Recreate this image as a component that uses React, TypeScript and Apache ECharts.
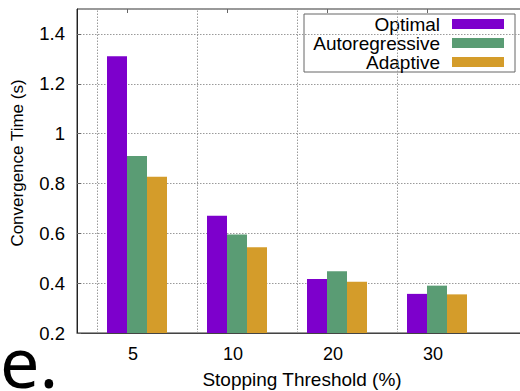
import React, { useEffect, useRef } from "react";
import * as echarts from "echarts";

const categories = ["5", "10", "20", "30"];
const optimal = [1.31, 0.67, 0.417, 0.357];
const autoregressive = [0.91, 0.595, 0.448, 0.39];
const adaptive = [0.827, 0.544, 0.406, 0.355];
const seriesNames = ["Optimal", "Autoregressive", "Adaptive"];
const seriesColors = ["#7d00cc", "#5a9c74", "#d49c2a"];
const yMin = 0.2;
const yMax = 1.5;
const yInterval = 0.2;
const xTitle = "Stopping Threshold (%)";
const yTitle = "Convergence Time (s)";

const FONT = "Liberation Sans, Arial, Helvetica, sans-serif";
const GRID_COLOR = "#9a9a9a";

export default function App() {
  const ref = useRef<HTMLDivElement>(null);
  useEffect(() => {
    if (!ref.current) return;
    const chart = echarts.init(ref.current, undefined, { renderer: "svg" });
    const cats = [...categories, ""];
    const seriesData = [optimal, autoregressive, adaptive];

    const legendChildren: any[] = [
      {
        type: "rect",
        shape: { x: 304, y: 14, width: 211, height: 58 },
        style: { fill: "#fff", stroke: "#666", lineWidth: 1 },
      },
    ];
    seriesNames.forEach((n, i) => {
      legendChildren.push({
        type: "text",
        x: 440,
        y: 24 + 19 * i,
        style: {
          text: n,
          fill: "#000",
          font: `19px ${FONT}`,
          align: "right",
          verticalAlign: "middle",
        },
      });
      legendChildren.push({
        type: "rect",
        shape: { x: 452, y: 19 + 19 * i, width: 52, height: 10 },
        style: { fill: seriesColors[i] },
      });
    });

    const option: any = {
      animation: false,
      backgroundColor: "#fff",
      grid: {
        left: 77,
        top: 9,
        width: 500,
        height: 324,
        containLabel: false,
        outerBoundsMode: "none",
        show: true,
        borderColor: "#333",
        borderWidth: 1,
        backgroundColor: "transparent",
      },
      xAxis: [
        {
          type: "category",
          data: cats,
          position: "bottom",
          axisLine: { show: true, lineStyle: { color: "#444", width: 1 } },
          axisTick: {
            show: true,
            inside: true,
            alignWithLabel: true,
            length: 4,
            lineStyle: { color: "#666" },
          },
          axisLabel: {
            color: "#000",
            fontSize: 18,
            fontFamily: FONT,
            margin: 12,
            padding: [0, 0, 0, 12],
          },
          splitLine: { show: false },
        },
        {
          type: "category",
          data: cats,
          position: "top",
          axisLine: { show: false },
          axisTick: {
            show: true,
            inside: true,
            alignWithLabel: true,
            length: 4,
            lineStyle: { color: "#666" },
          },
          axisLabel: { show: false },
          splitLine: { show: false },
        },
      ],
      yAxis: {
        type: "value",
        min: yMin,
        max: yMax,
        interval: yInterval,
        axisLine: { show: true, lineStyle: { color: "#222", width: 1 } },
        axisTick: {
          show: true,
          inside: true,
          length: 4,
          lineStyle: { color: "#666" },
        },
        axisLabel: {
          color: "#000",
          fontSize: 18.5,
          fontFamily: FONT,
          margin: 12,
          showMaxLabel: false,
          formatter: (v: number) => {
            const r = Math.round(v * 10) / 10;
            return String(r);
          },
        },
        splitLine: {
          show: true,
          lineStyle: { color: GRID_COLOR, type: [1.5, 1.5], width: 1 },
        },
      },
      series: [
        {
          type: "bar",
          name: "_spacer",
          data: categories.map(() => null),
          barWidth: 20,
          barGap: "0%",
          silent: true,
          markLine: {
            silent: true,
            z: 0,
            symbol: "none",
            label: { show: false },
            lineStyle: { color: GRID_COLOR, type: [1.5, 1.5], width: 1 },
            data: categories.map((c) => ({ xAxis: c })),
          },
        },
        ...seriesNames.map((n, i) => ({
          type: "bar",
          name: n,
          data: seriesData[i],
          barWidth: 20,
          barGap: "0%",
          itemStyle: { color: seriesColors[i] },
          z: 3,
        })),
      ],
      graphic: [
        {
          type: "group",
          z: 100,
          children: legendChildren,
        },
        {
          type: "text",
          x: 302,
          y: 379,
          style: {
            text: xTitle,
            fill: "#000",
            font: `19px ${FONT}`,
            align: "center",
            verticalAlign: "middle",
          },
        },
        {
          type: "text",
          x: 17,
          y: 163,
          rotation: Math.PI / 2,
          style: {
            text: yTitle,
            fill: "#000",
            font: `17px ${FONT}`,
            align: "center",
            verticalAlign: "middle",
          },
        },
        {
          type: "text",
          x: 0,
          y: 361,
          style: {
            text: "e.",
            fill: "#000",
            font: `70px Noto Sans, Open Sans, sans-serif`,
            lineHeight: 50,
            align: "left",
            verticalAlign: "middle",
          },
        },
      ],
    };
    chart.setOption(option);
    return () => chart.dispose();
  }, []);
  return (
    <div
      ref={ref}
      style={{ position: "fixed", left: 0, top: 0, width: 520, height: 391 }}
    />
  );
}
